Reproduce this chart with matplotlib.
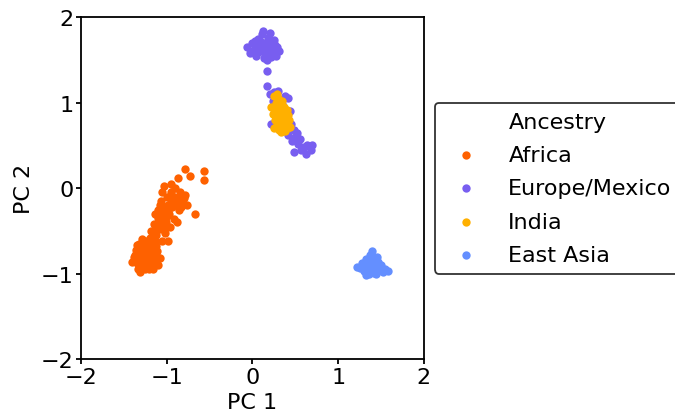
import numpy as np
import matplotlib
matplotlib.use("Agg")
import matplotlib.pyplot as plt

# PCA coordinates, per ancestry group
africa_x = [-1.38, -1.35, -1.33, -1.30, -1.28, -1.27, -1.25, -1.24, -1.22, -1.21,
            -1.20, -1.18, -1.17, -1.15, -1.14, -1.12, -1.10, -1.32, -1.36, -1.29,
            -1.26, -1.23, -1.19, -1.16, -1.40, -1.31, -1.13, -1.08, -1.24, -1.34,
            -1.37, -1.33, -1.29, -1.26, -1.22, -1.19, -1.16, -1.13, -1.30, -1.27,
            -1.23, -1.20, -1.17, -1.35, -1.11, -1.25, -1.28, -1.21,
            -1.18, -1.15, -1.12, -1.10, -1.08, -1.05, -1.04, -1.02, -1.00, -0.98,
            -0.96, -1.14, -1.06, -0.99, -1.16, -1.13, -1.09, -1.07, -1.03, -1.01,
            -1.10, -1.07, -1.05, -1.02, -1.00, -0.97, -0.95, -0.93, -0.90, -0.88,
            -0.86, -0.84, -0.82, -0.79, -0.76, -0.92, -0.88, -1.03, -0.95,
            -1.04, -0.99, -0.94, -0.91, -0.87, -0.83, -0.80, -0.96, -1.08,
            -0.79, -0.865, -0.73, -0.57, -0.57, -0.67]
africa_y = [-0.80, -0.88, -0.75, -0.92, -0.83, -0.70, -0.95, -0.78, -0.88, -0.66,
            -0.80, -0.92, -0.73, -0.85, -0.62, -0.76, -0.90, -0.65, -0.72, -0.60,
            -0.88, -0.72, -0.58, -0.95, -0.86, -0.98, -0.68, -0.82, -0.62, -0.94,
            -0.78, -0.82, -0.77, -0.75, -0.80, -0.84, -0.78, -0.82, -0.86, -0.93,
            -0.91, -0.70, -0.66, -0.67, -0.74, -0.68, -0.70, -0.95,
            -0.50, -0.42, -0.55, -0.35, -0.48, -0.28, -0.40, -0.52, -0.32, -0.20,
            -0.45, -0.30, -0.62, -0.62, -0.56, -0.47, -0.42, -0.36, -0.46, -0.40,
            -0.25, -0.15, -0.05, -0.22, -0.10, -0.30, -0.05, -0.18, 0.00, -0.12,
            -0.25, -0.05, -0.15, -0.08, -0.20, -0.36, -0.40, 0.02, 0.05,
            -0.30, -0.27, -0.22, -0.10, -0.18, -0.22, -0.12, -0.12, -0.20,
            0.22, 0.12, 0.14, 0.20, 0.10, -0.30]

europe_x = [-0.06, -0.03, 0.00, 0.02, 0.04, 0.06, 0.08, 0.10, 0.11, 0.13,
            0.14, 0.16, 0.18, 0.19, 0.21, 0.23, 0.25, 0.27, 0.29, 0.31,
            0.12, 0.17, 0.05, 0.22, 0.09, 0.20, 0.26, 0.01, 0.07, 0.15,
            0.24, 0.12, 0.18, 0.03,
            0.17, 0.17,
            0.20, 0.25, 0.30, 0.38, 0.42, 0.24, 0.35, 0.44, 0.22, 0.45,
            0.48, 0.42, 0.50, 0.46, 0.53, 0.56, 0.60, 0.57, 0.48, 0.64,
            0.69, 0.68, 0.62, 0.40, 0.52]
europe_y = [1.65, 1.58, 1.70, 1.62, 1.55, 1.75, 1.67, 1.60, 1.80, 1.52,
            1.70, 1.63, 1.76, 1.57, 1.68, 1.62, 1.73, 1.55, 1.65, 1.60,
            1.84, 1.50, 1.66, 1.54, 1.72, 1.81, 1.67, 1.60, 1.59, 1.58,
            1.59, 1.66, 1.69, 1.72,
            1.37, 1.20,
            1.10, 1.12, 1.14, 1.08, 1.05, 1.02, 0.98, 0.90, 0.75, 0.75,
            0.68, 0.62, 0.60, 0.55, 0.52, 0.57, 0.48, 0.45, 0.42, 0.50,
            0.51, 0.45, 0.40, 0.70, 0.65]

india_x = [0.25, 0.30, 0.27, 0.33, 0.22, 0.28, 0.35, 0.40, 0.24, 0.31,
           0.38, 0.43, 0.26, 0.33, 0.40, 0.29, 0.36, 0.44, 0.31, 0.38,
           0.25, 0.34, 0.30, 0.37, 0.42, 0.27, 0.35, 0.40, 0.33, 0.29]
india_y = [1.08, 1.05, 1.00, 0.98, 0.95, 0.92, 0.90, 0.92, 0.87, 0.85,
           0.84, 0.80, 0.80, 0.78, 0.76, 0.74, 0.72, 0.72, 0.68, 0.67,
           0.70, 0.82, 0.95, 0.95, 0.86, 0.85, 1.02, 0.70, 0.66, 1.10]

asia_x = [1.25, 1.28, 1.30, 1.32, 1.34, 1.36, 1.37, 1.38, 1.40, 1.41,
          1.43, 1.44, 1.46, 1.48, 1.50, 1.52, 1.55, 1.58, 1.35, 1.39,
          1.42, 1.33, 1.45, 1.31, 1.22]
asia_y = [-0.93, -0.88, -0.97, -0.83, -0.92, -1.00, -0.78, -0.87, -0.95, -0.82,
          -0.90, -1.00, -0.86, -0.94, -0.90, -0.98, -0.95, -0.97, -0.95, -0.73,
          -0.99, -1.02, -0.80, -0.90, -0.92]

groups = ["Africa", "Europe/Mexico", "India", "East Asia"]
xs = [africa_x, europe_x, india_x, asia_x]
ys = [africa_y, europe_y, india_y, asia_y]
colors = ["#fe6100", "#785ef0", "#ffb000", "#648fff"]

plt.rcParams['font.size'] = 16
plt.rcParams['axes.linewidth'] = 1.3

fig = plt.figure(figsize=(6.75, 4.14), dpi=100)
ax = fig.add_axes([0.12, 0.13, 0.508, 0.826])

for name, x, y, c in zip(groups, xs, ys, colors):
    ax.scatter(x, y, s=36, color=c, label=name, linewidths=0)

ax.set_xlim(-2, 2)
ax.set_ylim(-2, 2)
ax.set_xticks([-2, -1, 0, 1, 2])
ax.set_yticks([-2, -1, 0, 1, 2])
ax.tick_params(width=1.3, pad=2)
ax.set_xlabel("PC 1", labelpad=4)
ax.set_ylabel("PC 2", labelpad=5)

leg = ax.legend(title="Ancestry", loc="center left", bbox_to_anchor=(1.0, 0.5),
                fontsize=16, title_fontsize=16, frameon=True,
                labelspacing=0.6, handletextpad=0.9)
leg.get_frame().set_edgecolor("black")
leg.get_frame().set_linewidth(1.3)

fig.savefig("out.png", dpi=100)
